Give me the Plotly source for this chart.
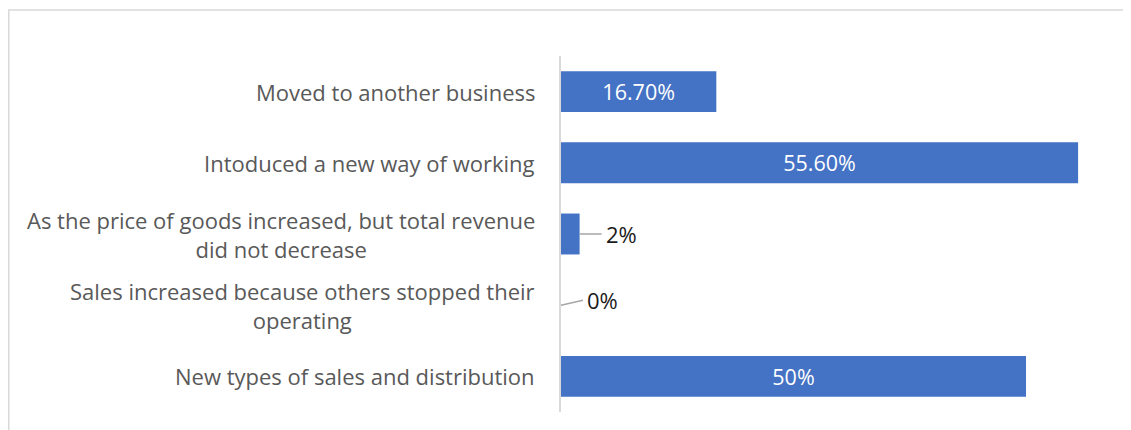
"""Horizontal bar chart — ways businesses adapted (share of respondents)."""

import plotly.graph_objects as go

# ---- data --------------------------------------------------------------

categories = [
    "Moved to another business",
    "Intoduced a new way of working",
    "As the price of goods increased, but total revenue<br>did not decrease",
    "Sales increased because others stopped their<br>operating",
    "New types of sales and distribution",
]
values = [16.7, 55.6, 2, 0, 50]
value_labels = ["16.70%", "55.60%", "2%", "0%", "50%"]
label_inside = [True, True, False, False, True]

# ---- layout constants --------------------------------------------------
# page body has an 8px margin, so the figure is drawn 8px smaller

W, H = 1123, 422
M_L, M_R, M_T, M_B = 553, 21, 48, 18
BLUE = "#4472C4"
X_MAX = 59.03
FONT = "Open Sans"

fig = go.Figure(go.Bar(
    x=values, y=categories, orientation="h",
    marker=dict(color=BLUE, line_width=0),
    text=[t if ins else "" for t, ins in zip(value_labels, label_inside)],
    textposition="inside", insidetextanchor="middle",
    textfont=dict(family=FONT, size=21.5, color="white"),
    hoverinfo="skip",
))

# category labels, centred multi-line like the original
for cat in categories:
    fig.add_annotation(
        x=0, xref="paper", y=cat, yref="y", text=cat, showarrow=False,
        xanchor="right", yanchor="middle", align="center", xshift=-24,
        font=dict(family=FONT, size=22, color="#595959"),
    )

# outside labels with leader lines
for cat, v, t, ins in zip(categories, values, value_labels, label_inside):
    if ins:
        continue
    fig.add_annotation(
        x=v, y=cat, xref="x", yref="y", text=t,
        showarrow=True, arrowhead=0, arrowwidth=1.5, arrowcolor="#a6a6a6",
        ax=22, ay=-5 if v == 0 else 0, xanchor="left", yanchor="middle",
        borderpad=3,
        font=dict(family=FONT, size=22, color="#1a1a1a"),
    )

# chart frame (only top and left visible in the crop)
fig.add_shape(type="rect", xref="paper", yref="paper",
              x0=(0.8 - M_L) / (W - M_L - M_R), x1=1.1,
              y0=-0.3, y1=1 + (M_T - 2) / (H - M_T - M_B),
              line=dict(color="#d9d9d9", width=1.5), layer="below")

fig.update_layout(
    width=W, height=H, margin=dict(l=M_L, r=M_R, t=M_T, b=M_B),
    paper_bgcolor="white", plot_bgcolor="white",
    bargap=0.425, showlegend=False,
    xaxis=dict(range=[0, X_MAX], visible=False, fixedrange=True),
    yaxis=dict(autorange="reversed", showticklabels=False, ticks="",
               showgrid=False, showline=True, linecolor="#d9d9d9", linewidth=1.5,
               zeroline=False),
)

fig.write_html("out.html")
